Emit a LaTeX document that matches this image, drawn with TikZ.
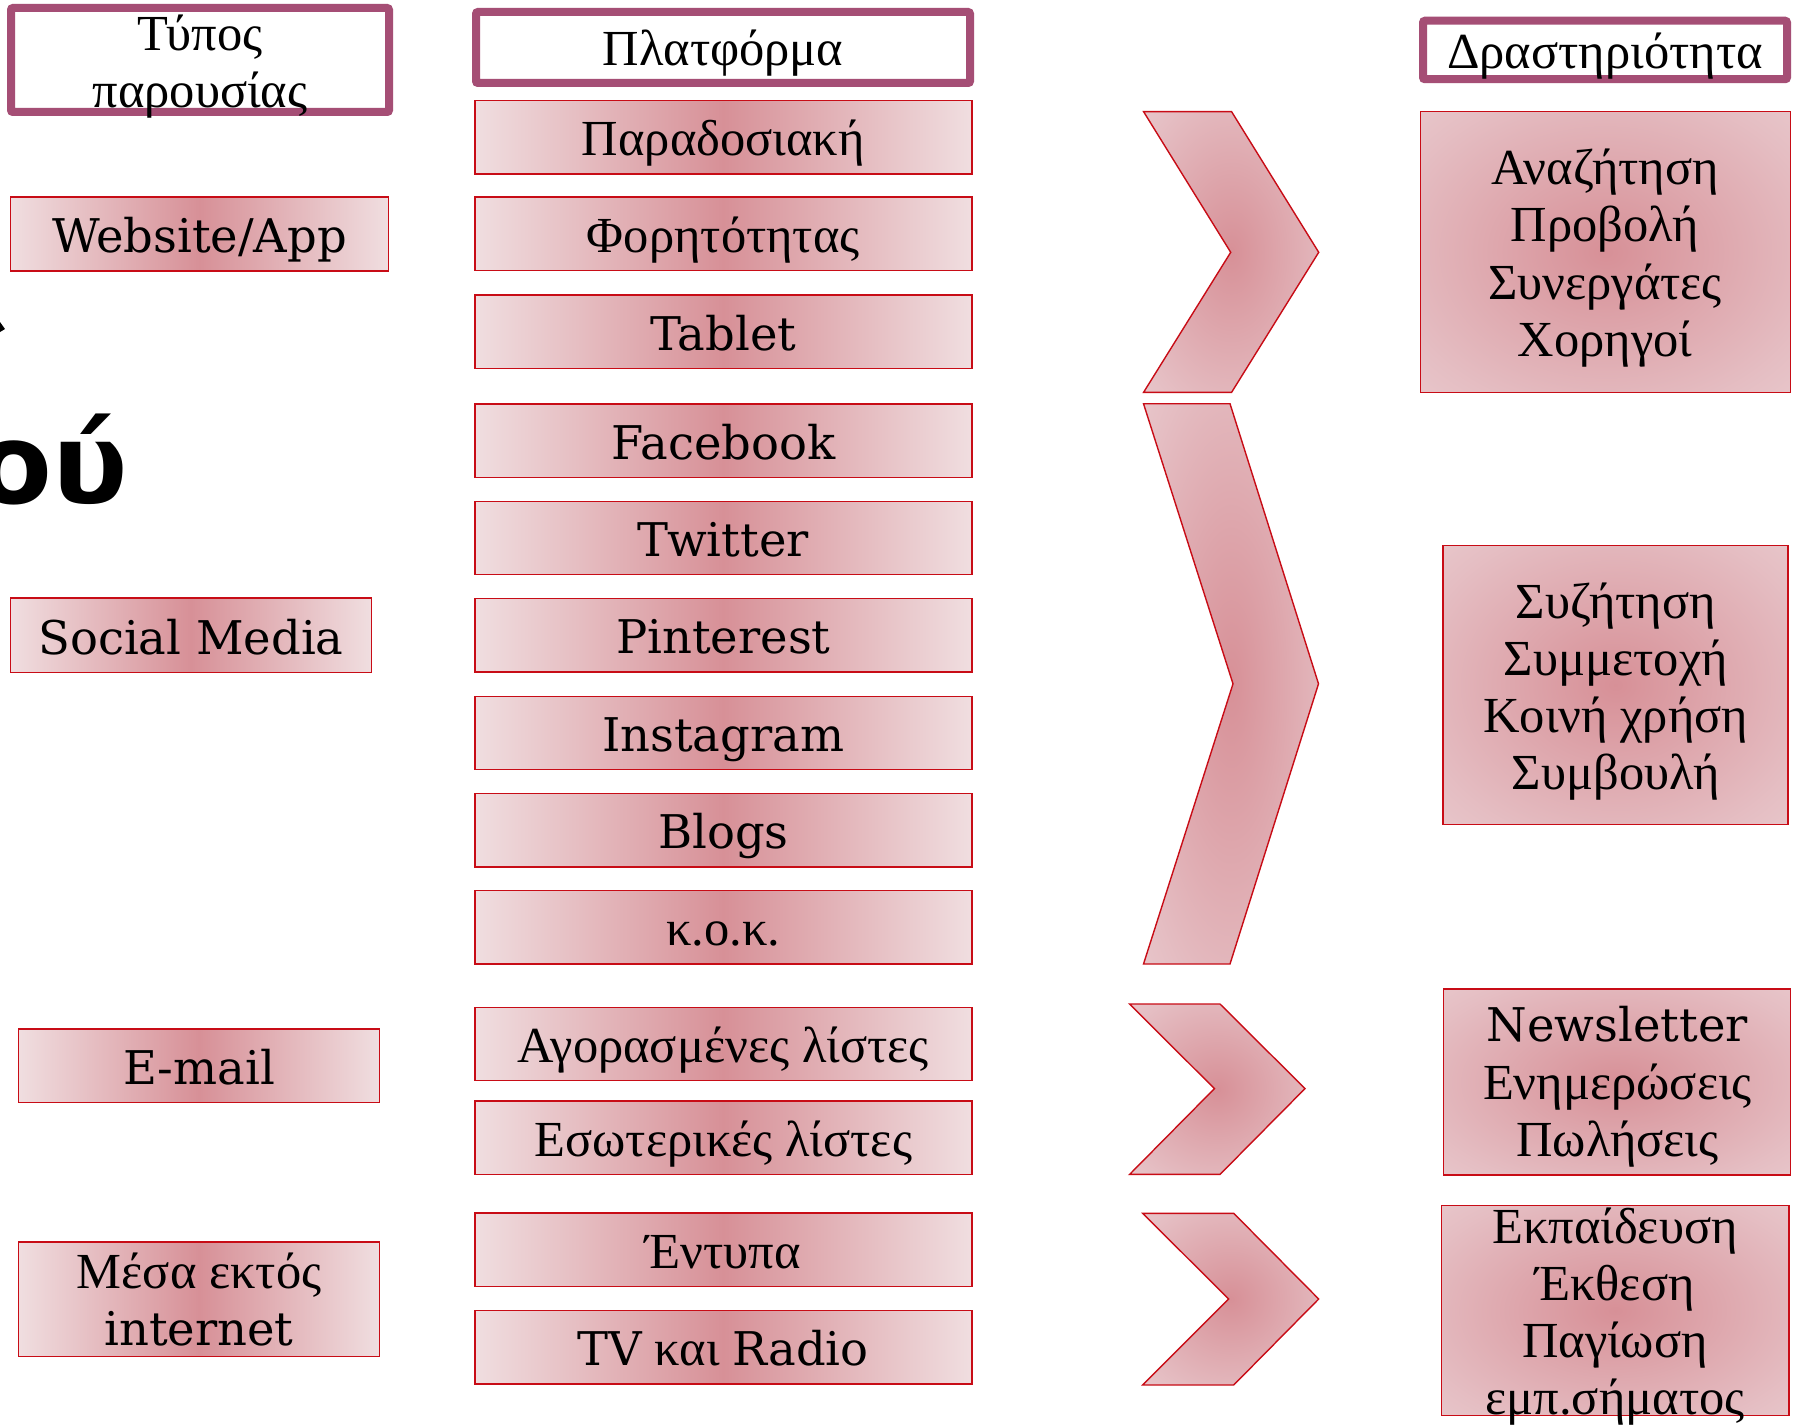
\documentclass[tikz,border=0pt]{standalone}
\usepackage{fontspec}
\setmainfont{Liberation Serif}
\newfontfamily\lat{DejaVu Serif}[Scale=0.92]
\newfontfamily\bigsans{DejaVu Sans}
\usetikzlibrary{calc}
\definecolor{hdr}{RGB}{165,78,117}
\definecolor{edgered}{RGB}{200,12,22}
\definecolor{pin}{RGB}{215,144,151}
\definecolor{pmid}{RGB}{229,190,195}
\definecolor{pout}{RGB}{240,222,224}
\pgfdeclareradialshading{pinkrad}{\pgfpoint{0bp}{0bp}}{color(0bp)=(pin); color(30bp)=(pmid); color(55bp)=(pout); color(75bp)=(pout)}
\tikzset{
  hdrbox/.style={draw=hdr, line width=8pt, fill=white, rounded corners=2pt, inner sep=0pt},
  pbox/.style={draw=edgered, line width=1.4pt, left color=pout, right color=pout, middle color=pin, inner sep=0pt},
  rbox/.style={draw=edgered, line width=1.4pt, shading=pinkrad, inner sep=0pt},
  chev/.style={draw=edgered, line width=1.4pt, shading=pinkrad, line join=miter},
  txt/.style={inner sep=0pt, anchor=base, font=\fontsize{50.5}{57}\selectfont},
}
\newcommand\midbox[3]{%
  \node[pbox, minimum width=497pt, minimum height=73.5pt] (#1) at (723.3,#2) {};
  \node[txt] (#1t) at ($(#1.center)+(0,18.5)$) {#3};}
\begin{document}
\begin{tikzpicture}[x=1pt,y=-1pt]
\useasboundingbox (0,0) rectangle (1793,1426);
\fill[white] (0,0) rectangle (1793,1426);

% fragment at left edge
\node[inner sep=0pt, anchor=base east, font=\fontsize{112}{112}\bigsans\bfseries] (frag) at (128,503) {ού};
\fill (0,322) -- (5,329) -- (0,332) -- cycle;

% headers
\node[hdrbox, minimum width=378pt, minimum height=104pt] (h1) at (200,60) {};
\node[txt] (h1a) at (200,50.5) {Τύπος};
\node[txt] (h1b) at (200,107.5) {παρουσίας};
\node[hdrbox, minimum width=494pt, minimum height=71pt] (h2) at (723,47.5) {};
\node[txt] (h2t) at (723,66) {Πλατφόρμα};
\node[hdrbox, minimum width=364pt, minimum height=58.5pt] (h3) at (1605,50) {};
\node[txt] (h3t) at (1605,68.6) {Δραστηριότητα};

% left column
\node[pbox, minimum width=378.5pt, minimum height=74pt] (l1) at (199.5,234) {};
\node[txt] (l1t) at (199.5,252.3) {\lat Website/App};
\node[pbox, minimum width=361.3pt, minimum height=74.4pt] (l2) at (191,635.2) {};
\node[txt] (l2t) at (191,654) {\lat Social Media};
\node[pbox, minimum width=361.3pt, minimum height=73.4pt] (l3) at (199,1065.7) {};
\node[txt] (l3t) at (199,1084) {\lat E-mail};
\node[pbox, minimum width=361.3pt, minimum height=114.4pt] (l4) at (199,1299) {};
\node[txt] (l4a) at (199,1288.8) {Μέσα εκτός};
\node[txt] (l4b) at (199,1345.9) {\lat internet};

% middle column
\midbox{m1}{137.2}{Παραδοσιακή}
\midbox{m2}{233.9}{Φορητότητας}
\midbox{m3}{331.6}{\lat Tablet}
\midbox{m4}{440.9}{\lat Facebook}
\midbox{m5}{538.0}{\lat Twitter}
\midbox{m6}{635.2}{\lat Pinterest}
\midbox{m7}{733.0}{\lat Instagram}
\midbox{m8}{830.2}{\lat Blogs}
\midbox{m9}{927.4}{κ.ο.κ.}
\midbox{m10}{1044.0}{Αγορασμένες λίστες}
\midbox{m11}{1137.8}{Εσωτερικές λίστες}
\midbox{m12}{1249.9}{Έντυπα}
\midbox{m13}{1347.1}{{\lat TV} και {\lat Radio}}

% chevrons
\path[chev] (1143.6,111.7) -- (1231.6,111.7) -- (1318.7,252.3) -- (1231.6,392.3) -- (1143.6,392.3) -- (1230.7,252.3) -- cycle;
\path[chev] (1143.5,403.7) -- (1230,403.7) -- (1318.5,683.8) -- (1230,964) -- (1143.5,964) -- (1233,683.8) -- cycle;
\path[chev] (1129.6,1004) -- (1220,1004) -- (1305,1088.6) -- (1220,1174.4) -- (1129.6,1174.4) -- (1214.4,1088.6) -- cycle;
\path[chev] (1142.7,1213.3) -- (1233.7,1213.3) -- (1318.7,1299) -- (1233.7,1385) -- (1142.7,1385) -- (1228.6,1299) -- cycle;

% right column
\node[rbox, minimum width=370pt, minimum height=280.6pt] (r1) at (1605.4,252) {};
\node[txt] (r1a) at (1605,184.3) {Αναζήτηση};
\node[txt] (r1b) at (1605,241.7) {Προβολή};
\node[txt] (r1c) at (1605,299) {Συνεργάτες};
\node[txt] (r1d) at (1605,356.7) {Χορηγοί};

\node[rbox, minimum width=345pt, minimum height=279pt] (r2) at (1615.5,685) {};
\node[txt] (r2a) at (1615.8,618.6) {Συζήτηση};
\node[txt] (r2b) at (1615.8,675.6) {Συμμετοχή};
\node[txt] (r2c) at (1615.8,732.6) {Κοινή χρήση};
\node[txt] (r2d) at (1615.8,789.6) {Συμβουλή};

\node[rbox, minimum width=347pt, minimum height=186pt] (r3) at (1616.8,1082) {};
\node[txt] (r3a) at (1617.4,1041.7) {\lat Newsletter};
\node[txt] (r3b) at (1617.4,1099.3) {Ενημερώσεις};
\node[txt] (r3c) at (1617.4,1156.7) {Πωλήσεις};

\node[rbox, minimum width=347.5pt, minimum height=210pt] (r4) at (1615.2,1310.7) {};
\node[txt] (r4a) at (1615,1243.3) {Εκπαίδευση};
\node[txt] (r4b) at (1615,1300.7) {Έκθεση};
\node[txt] (r4c) at (1615,1357.7) {Παγίωση};
\node[txt] (r4d) at (1615,1414.3) {εμπ.σήματος};
\end{tikzpicture}
\end{document}
